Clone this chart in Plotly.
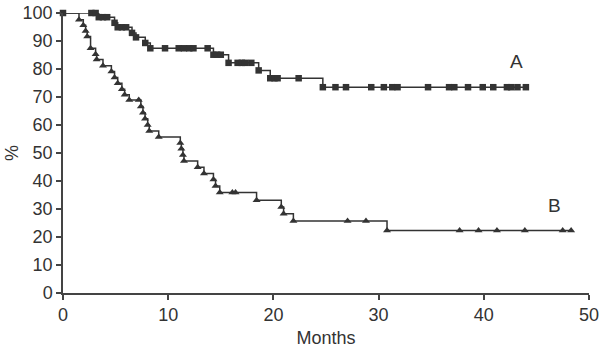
import plotly.graph_objects as go

# Group A: time (months) and survival (%) at each event / censor mark
a_months = [0, 2.7, 3.1, 3.4, 3.8, 4.2, 4.9, 5.2, 5.6, 6.0, 6.56, 6.94, 7.82, 8.3, 9.7,
            11.0, 11.5, 12.0, 12.4, 13.75, 14.3, 14.65, 15.0, 15.74, 16.6, 17.0, 17.3,
            17.9, 18.6, 19.7, 20.1, 20.4, 22.4, 24.7, 25.9, 26.9, 29.3, 30.5, 31.3, 31.8,
            34.7, 36.7, 37.2, 38.5, 39.9, 40.9, 42.2, 42.6, 43.2, 44.0]
a_surv = [100, 100, 100, 98.5, 98.5, 98.5, 96.5, 94.9, 94.9, 94.9, 92.9, 91.3, 89.3, 87.4, 87.4,
          87.4, 87.4, 87.4, 87.4, 87.4, 85.1, 85.1, 85.1, 82.2, 82.2, 82.2, 82.2,
          82.2, 79.5, 76.7, 76.7, 76.7, 76.7, 73.5, 73.5, 73.5, 73.5, 73.5, 73.5, 73.5,
          73.5, 73.5, 73.5, 73.5, 73.5, 73.5, 73.5, 73.5, 73.5, 73.5]

# Group B
b_months = [0, 1.52, 1.93, 2.15, 2.3, 2.62, 3.1, 3.2, 3.8, 4.6, 4.9, 5.2, 5.6, 5.86, 6.3, 7.2,
            7.4, 7.6, 7.8, 8.05, 8.2, 9.1, 11.15, 11.25, 11.4, 11.5, 12.8, 13.4, 14.3, 14.5,
            14.9, 16.1, 16.4, 18.4, 20.75, 20.97, 21.9, 27.05, 28.8, 30.8, 37.7, 39.5,
            41.25, 43.9, 47.5, 48.3]
b_surv = [100, 97.6, 95.6, 93.6, 91.6, 87.4, 85.3, 83.4, 81.2, 79.1, 77.0, 74.9, 72.8, 70.8, 68.9, 68.9,
          66.6, 64.4, 62.2, 60.0, 57.9, 55.7, 53.6, 51.5, 49.3, 47.1, 44.9, 42.7, 40.5, 38.2,
          35.9, 35.9, 35.9, 33.1, 30.7, 28.3, 25.7, 25.7, 25.7, 22.3, 22.3, 22.3,
          22.3, 22.3, 22.3, 22.3]

x_ticks = [0, 10, 20, 30, 40, 50]
y_ticks = [0, 10, 20, 30, 40, 50, 60, 70, 80, 90, 100]

INK = "#333333"
AXIS = "#444444"
FONT = "Liberation Sans, Arial, sans-serif"

fig = go.Figure()
fig.add_trace(go.Scatter(x=b_months, y=b_surv, mode="lines", line=dict(color=INK, width=1.5, shape="hv"),
                         cliponaxis=False, showlegend=False))
fig.add_trace(go.Scatter(x=b_months[1:], y=b_surv[1:], mode="markers",
                         marker=dict(symbol="triangle-up", size=7, color=INK),
                         cliponaxis=False, showlegend=False))
fig.add_trace(go.Scatter(x=a_months, y=a_surv, mode="lines", line=dict(color=INK, width=1.5, shape="hv"),
                         cliponaxis=False, showlegend=False))
fig.add_trace(go.Scatter(x=a_months, y=a_surv, mode="markers",
                         marker=dict(symbol="square", size=6.5, color=INK),
                         cliponaxis=False, showlegend=False))

fig.add_annotation(x=43.1, y=82.8, text="A", showarrow=False, font=dict(size=19, color=INK, family=FONT))
fig.add_annotation(x=46.7, y=31.4, text="B", showarrow=False, font=dict(size=19, color=INK, family=FONT))
# y-axis title "%"
fig.add_annotation(xref="paper", yref="paper", x=0, y=0.5, xshift=-51, xanchor="center", yanchor="middle",
                   text="%", textangle=-90, showarrow=False, font=dict(size=18, color=INK, family=FONT))

fig.update_layout(
    width=600, height=348,
    margin=dict(l=63, r=11, t=13, b=55),
    paper_bgcolor="white", plot_bgcolor="white",
    font=dict(family=FONT, size=18, color=INK),
    xaxis=dict(range=[0, 50], tickvals=x_ticks, showgrid=False, zeroline=False, automargin=False,
               showline=True, linecolor=AXIS, linewidth=1.5, ticklabeloverflow="allow",
               ticks="outside", ticklen=5, tickwidth=1.5, tickcolor=AXIS,
               title=dict(text="Months", standoff=8, font=dict(size=18))),
    yaxis=dict(range=[0, 100], tickvals=y_ticks, showgrid=False, zeroline=False, automargin=False,
               showline=True, linecolor=AXIS, linewidth=1.5, ticklabeloverflow="allow",
               ticks="outside", ticklen=5, tickwidth=1.5, tickcolor=AXIS),
)

# remove the browser's default 8px body margin so the 600x348 figure fills the window
fig.write_html("out.html", config={"displayModeBar": False},
               post_script="document.body.style.margin='0';")
